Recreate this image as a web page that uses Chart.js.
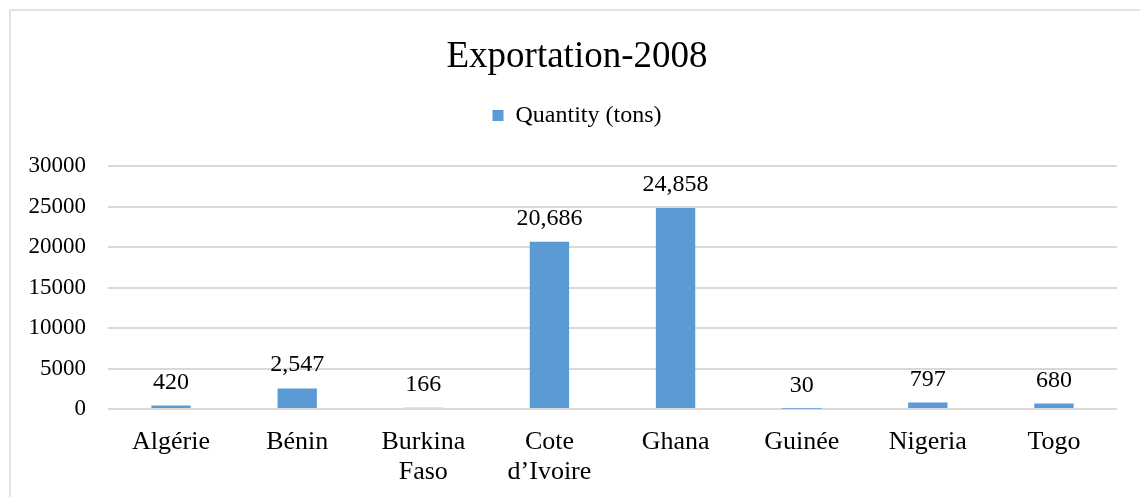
<!DOCTYPE html>
<html>
<head>
<meta charset="utf-8">
<script src="https://cdn.jsdelivr.net/npm/chart.js@4"></script>
<style>
html,body{margin:0;padding:0;background:#fff;}
canvas{display:block;}
</style>
</head>
<body>
<canvas id="c" width="1140" height="497"></canvas>
<script>
const categories = ['Algérie', 'Bénin', ['Burkina', 'Faso'], ['Cote', 'd’Ivoire'], 'Ghana', 'Guinée', 'Nigeria', 'Togo'];
const quantity = [420, 2547, 166, 20686, 24858, 30, 797, 680];
const yTicks = [0, 5000, 10000, 15000, 20000, 25000, 30000];
const seriesName = 'Quantity (tons)';
const titleText = 'Exportation-2008';

const FONT = "'Liberation Serif', 'Times New Roman', serif";
const BLUE = '#5B9BD5';
const GRID = '#d9d9d9';

const borderPlugin = {
  id: 'frame',
  beforeDraw(chart) {
    const ctx = chart.ctx;
    ctx.save();
    ctx.fillStyle = '#fff';
    ctx.fillRect(0, 0, chart.width, chart.height);
    ctx.strokeStyle = GRID;
    ctx.lineWidth = 1.5;
    ctx.strokeRect(10, 10, chart.width + 10, chart.height + 10);
    ctx.restore();
  }
};

const shiftPlugin = {
  id: 'shiftHeader',
  afterLayout(chart) {
    if (chart.titleBlock) chart.titleBlock.left += 37;
    if (chart.legend) chart.legend.left += 37;
  }
};

const labelPlugin = {
  id: 'dataLabels',
  afterDatasetsDraw(chart) {
    const ctx = chart.ctx;
    const meta = chart.getDatasetMeta(0);
    const data = chart.data.datasets[0].data;
    ctx.save();
    ctx.font = '24px ' + FONT;
    ctx.fillStyle = '#000';
    ctx.textAlign = 'center';
    ctx.textBaseline = 'alphabetic';
    meta.data.forEach((bar, i) => {
      ctx.fillText(data[i].toLocaleString('en-US'), bar.x, bar.y - 17);
    });
    ctx.restore();
  }
};

new Chart(document.getElementById('c'), {
  type: 'bar',
  data: {
    labels: categories,
    datasets: [{
      label: seriesName,
      data: quantity,
      backgroundColor: BLUE,
      borderWidth: 0,
      categoryPercentage: 1,
      barPercentage: 0.312
    }]
  },
  options: {
    responsive: false,
    animation: false,
    layout: { padding: { left: 0, right: 23, top: 10, bottom: 0 } },
    plugins: {
      title: {
        display: true,
        text: titleText,
        color: '#000',
        font: { family: FONT, size: 37, weight: 'normal', lineHeight: 1.2 },
        padding: { top: 25, bottom: 14 }
      },
      subtitle: {
        display: true,
        text: '',
        weight: 500,
        font: { size: 1, lineHeight: 1 },
        padding: { top: 0, bottom: 28 }
      },
      legend: {
        display: true,
        labels: {
          color: '#000',
          font: { family: FONT, size: 24 },
          boxWidth: 11,
          boxHeight: 11,
          padding: 10
        }
      },
      tooltip: { enabled: false }
    },
    scales: {
      x: {
        grid: { display: false, drawTicks: false },
        border: { display: false },
        ticks: {
          color: '#000',
          font: { family: FONT, size: 26, lineHeight: '30px' },
          padding: 18,
          maxRotation: 0,
          autoSkip: false
        },
        afterFit(scale) { scale.height = 88; }
      },
      y: {
        min: 0,
        max: 30000,
        afterBuildTicks(scale) { scale.ticks = yTicks.map(v => ({ value: v })); },
        grid: { color: GRID, lineWidth: 2, drawTicks: false },
        border: { display: false },
        ticks: {
          color: '#000',
          font: { family: FONT, size: 23 },
          padding: 22,
          callback: v => String(v)
        },
        afterFit(scale) { scale.width = 108; }
      }
    }
  },
  plugins: [borderPlugin, shiftPlugin, labelPlugin]
});
</script>
</body>
</html>
